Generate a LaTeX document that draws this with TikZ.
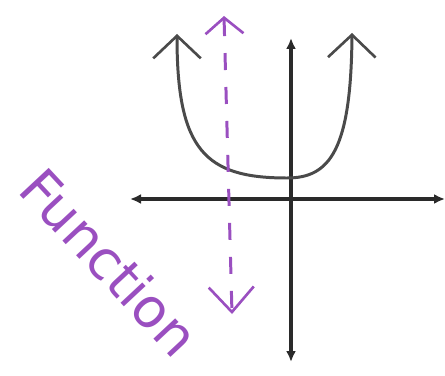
\documentclass[tikz,border=0pt]{standalone}
\usepackage{fontspec}
\setsansfont{DejaVu Sans}
\usetikzlibrary{arrows.meta,positioning}
\definecolor{ink}{HTML}{2A2A2A}
\definecolor{pencil}{HTML}{4A4A4A}
\definecolor{marker}{HTML}{9A4FC0}
\tikzset{
  axis/.style={ink, line width=2pt, {Latex[length=2.2mm,width=2mm]}-{Latex[length=2.2mm,width=2mm]}},
  curve/.style={pencil, line width=1.7pt, line cap=round,
                {Straight Barb[length=4.5mm,width=9.5mm,line width=1.5pt]}-{Straight Barb[length=4.5mm,width=9.5mm,line width=1.5pt]}},
  asym/.style={marker, line width=1.7pt, dash pattern=on 0.34cm off 0.34cm,
               {Straight Barb[length=3.2mm,width=7.6mm,line width=1.5pt]}-{Straight Barb[length=5mm,width=9mm,line width=1.5pt]}},
  scrawl/.style={marker, font=\sffamily\fontsize{31}{31}\selectfont, inner sep=0pt}
}
\begin{document}
\begin{tikzpicture}[x=0.02cm,y=-0.02cm]
  \useasboundingbox (0,0) rectangle (445,375);
  % axes
  \coordinate (xl) at (130,199);
  \coordinate (xr) at (445,199);
  \coordinate (yt) at (291,38);
  \coordinate (yb) at (291,362);
  \draw[axis] (xl) -- (xr);
  \draw[axis] (yt) -- (yb);
  % the U curve
  \coordinate (ltop) at (177,34);
  \coordinate (bot) at (287,178);
  \coordinate (rtop) at (352,33);
  \draw[curve] (ltop) .. controls (177,150) and (205,178) .. (bot)
               .. controls (330,178) and (351,150) .. (rtop);
  % dashed purple line
  \coordinate (dtop) at (224,16);
  \coordinate (dbot) at (232,314);
  \draw[asym] (dtop) -- (dbot);
  % label
  \node[scrawl, rotate=-47] (lbl) at (110,262) {Function};
\end{tikzpicture}
\end{document}
